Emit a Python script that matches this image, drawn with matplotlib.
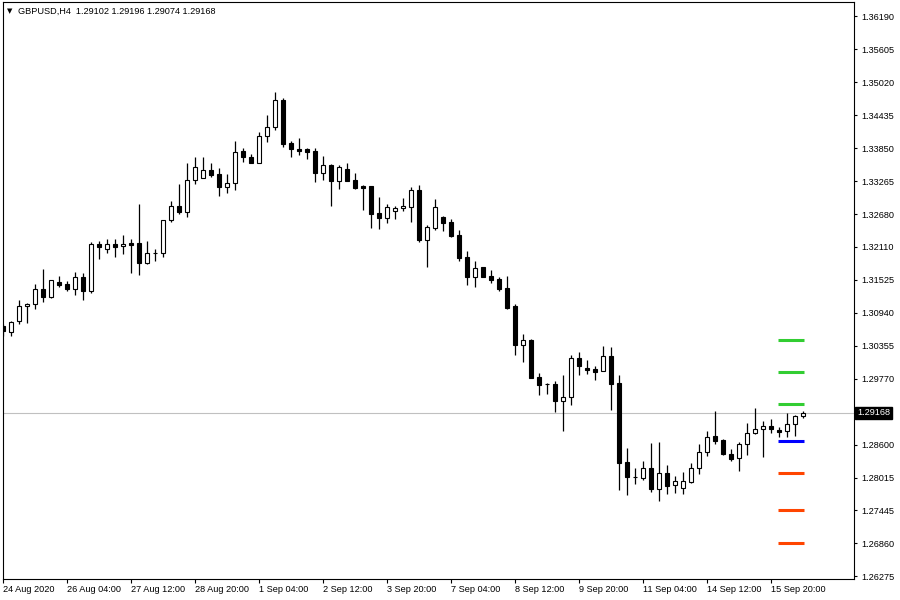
import matplotlib.pyplot as plt

# GBPUSD H4 candles, 24 Aug 20:00 .. 16 Sep 12:00 (2020)
opens = [1.30703, 1.30591, 1.30786, 1.31052, 1.31087, 1.31352, 1.31221, 1.31482, 1.31441, 1.31363,
         1.31565, 1.31328, 1.32149, 1.32060, 1.32149, 1.32114, 1.32172, 1.32167, 1.31823, 1.31990,
         1.31990, 1.32574, 1.32822, 1.32726, 1.33282, 1.33328, 1.33464, 1.33393, 1.33158, 1.33234,
         1.33795, 1.33694, 1.33593, 1.34061, 1.34220, 1.34703, 1.33937, 1.33836, 1.33836, 1.33800,
         1.33416, 1.33553, 1.33275, 1.33476, 1.33287, 1.33181, 1.33176, 1.32698, 1.32620, 1.32744,
         1.32783, 1.32818, 1.33107, 1.32230, 1.32446, 1.32629, 1.32540, 1.32310, 1.31921, 1.31575,
         1.31742, 1.31582, 1.31535, 1.31370, 1.31057, 1.30372, 1.30450, 1.29795, 1.29682, 1.29673,
         1.29381, 1.29441, 1.30133, 1.29956, 1.29938, 1.29915, 1.30167, 1.29694, 1.28290, 1.28030,
         1.28018, 1.28189, 1.27823, 1.28096, 1.27883, 1.27841, 1.27947, 1.28184, 1.28467, 1.28751,
         1.28680, 1.28432, 1.28361, 1.28609, 1.28804, 1.28874, 1.28928, 1.28862, 1.28839, 1.28963,
         1.29102]
highs = [1.30738, 1.30797, 1.31163, 1.31105, 1.31446, 1.31712, 1.31517, 1.31582, 1.31499, 1.31659,
         1.31641, 1.32184, 1.32202, 1.32237, 1.32237, 1.32308, 1.32248, 1.32857, 1.32202, 1.32060,
         1.32579, 1.32910, 1.33222, 1.33583, 1.33694, 1.33694, 1.33583, 1.33494, 1.33393, 1.33977,
         1.33859, 1.33747, 1.34137, 1.34438, 1.34845, 1.34733, 1.33977, 1.34030, 1.33853, 1.33848,
         1.33707, 1.33570, 1.33547, 1.33588, 1.33411, 1.33193, 1.33181, 1.32986, 1.32862, 1.32827,
         1.32968, 1.33158, 1.33195, 1.32485, 1.32947, 1.32646, 1.32591, 1.32398, 1.32027, 1.31853,
         1.31747, 1.31689, 1.31565, 1.31582, 1.31087, 1.30561, 1.30473, 1.29866, 1.29694, 1.29726,
         1.29832, 1.30186, 1.30239, 1.30098, 1.29991, 1.30345, 1.30328, 1.29832, 1.28543, 1.28189,
         1.28313, 1.28632, 1.28650, 1.28243, 1.28048, 1.28119, 1.28278, 1.28609, 1.28844, 1.29198,
         1.28703, 1.28526, 1.28650, 1.28986, 1.29251, 1.29027, 1.29057, 1.28910, 1.29163, 1.29122,
         1.29196]
lows = [1.30531, 1.30531, 1.30744, 1.30761, 1.31009, 1.31133, 1.31204, 1.31388, 1.31328, 1.31257,
        1.31168, 1.31292, 1.31894, 1.32000, 1.31929, 1.31983, 1.31646, 1.31611, 1.31806, 1.31859,
        1.31929, 1.32538, 1.32685, 1.32637, 1.33222, 1.33322, 1.33335, 1.33004, 1.33052, 1.33110,
        1.33611, 1.33583, 1.33588, 1.33954, 1.34172, 1.33876, 1.33699, 1.33735, 1.33664, 1.33257,
        1.33287, 1.32827, 1.33133, 1.33269, 1.33133, 1.32756, 1.32443, 1.32425, 1.32531, 1.32602,
        1.32744, 1.32544, 1.32195, 1.31752, 1.32407, 1.32384, 1.32283, 1.31862, 1.31434, 1.31398,
        1.31570, 1.31469, 1.31328, 1.31009, 1.30195, 1.30071, 1.29782, 1.29487, 1.29505, 1.29186,
        1.28844, 1.29310, 1.29841, 1.29862, 1.29752, 1.29901, 1.29221, 1.27805, 1.27717, 1.27912,
        1.27982, 1.27770, 1.27611, 1.27735, 1.27752, 1.27735, 1.27929, 1.28089, 1.28407, 1.28620,
        1.28425, 1.28319, 1.28142, 1.28425, 1.28800, 1.28389, 1.28814, 1.28743, 1.28743, 1.28761,
        1.29074]
closes = [1.30620, 1.30779, 1.31052, 1.31087, 1.31352, 1.31221, 1.31512, 1.31434, 1.31363, 1.31565,
          1.31328, 1.32149, 1.32096, 1.32149, 1.32106, 1.32149, 1.32142, 1.31823, 1.31990, 1.31995,
          1.32574, 1.32822, 1.32721, 1.33282, 1.33517, 1.33464, 1.33381, 1.33158, 1.33234, 1.33777,
          1.33699, 1.33593, 1.34061, 1.34225, 1.34703, 1.33933, 1.33841, 1.33806, 1.33788, 1.33416,
          1.33547, 1.33275, 1.33512, 1.33275, 1.33151, 1.33151, 1.32691, 1.32620, 1.32804, 1.32786,
          1.32823, 1.33107, 1.32229, 1.32452, 1.32806, 1.32535, 1.32299, 1.31912, 1.31575, 1.31738,
          1.31575, 1.31522, 1.31363, 1.31027, 1.30372, 1.30450, 1.29788, 1.29664, 1.29685, 1.29381,
          1.29441, 1.30131, 1.30000, 1.29933, 1.29894, 1.30167, 1.29682, 1.28283, 1.28035, 1.28027,
          1.28184, 1.27823, 1.28096, 1.27876, 1.27954, 1.27954, 1.28184, 1.28467, 1.28733, 1.28673,
          1.28443, 1.28354, 1.28609, 1.28804, 1.28874, 1.28928, 1.28885, 1.28832, 1.28963, 1.29105,
          1.29168]

# time axis labels, one every 8 bars
time_labels = ['24 Aug 2020', '26 Aug 04:00', '27 Aug 12:00', '28 Aug 20:00', '1 Sep 04:00',
               '2 Sep 12:00', '3 Sep 20:00', '7 Sep 04:00', '8 Sep 12:00', '9 Sep 20:00',
               '11 Sep 04:00', '14 Sep 12:00', '15 Sep 20:00']
label_step = 8

price_ticks = [1.36190, 1.35605, 1.35020, 1.34435, 1.33850, 1.33265, 1.32680, 1.32110, 1.31525,
               1.30940, 1.30355, 1.29770, 1.28600, 1.28015, 1.27445, 1.26860, 1.26275]

# pivot style levels drawn at the right
levels_up = [1.30448, 1.29882, 1.29320]
level_mid = 1.28660
levels_down = [1.28093, 1.27443, 1.26859]

symbol = 'GBPUSD,H4'

FONT = 'Liberation Sans'
FS = 6.6

fig = plt.figure(figsize=(9, 6), dpi=100, facecolor='white')
ax = fig.add_axes([2.5 / 900, 21 / 600, 851.5 / 900, 577 / 600])
ax.set_facecolor('white')

n = len(opens)
x = list(range(n))

# current price line
ax.axhline(closes[-1], color='#c0c0c0', lw=0.8, zorder=1)

# wicks + bodies
ax.vlines(x, lows, highs, color='black', lw=0.9, zorder=2)
bottoms = [min(o, c) for o, c in zip(opens, closes)]
heights = [abs(c - o) for o, c in zip(opens, closes)]
faces = ['white' if c > o else 'black' for o, c in zip(opens, closes)]
ax.bar(x, heights, bottom=bottoms, width=0.55, color=faces, edgecolor='black',
       linewidth=0.8, zorder=3)

# levels
x0, x1 = n - 4.1, n - 0.9
ax.hlines(levels_up, x0, x1, color='#32cd32', lw=2.2, zorder=4)
ax.hlines(level_mid, x0, x1, color='#0000ff', lw=2.2, zorder=4)
ax.hlines(levels_down, x0, x1, color='#ff4500', lw=2.2, zorder=4)

ax.set_xlim(-0.1, 106.34)
ax.set_ylim(1.26225, 1.36438)

# axes look
for sp in ax.spines.values():
    sp.set_color('black')
    sp.set_linewidth(0.8)

ax.yaxis.tick_right()
ax.set_yticks(price_ticks)
ax.set_yticklabels([f'{v:.5f}' for v in price_ticks], fontfamily=FONT, fontsize=FS)
ax.tick_params(axis='y', length=2.5, width=0.8, pad=3, colors='black')

ax.set_xticks(list(range(0, n, label_step)))
ax.set_xticklabels(time_labels, fontfamily=FONT, fontsize=FS)
for t in ax.get_xticklabels():
    t.set_horizontalalignment('left')
ax.tick_params(axis='x', length=3, width=0.8, pad=1.5, colors='black')

# last price box on the scale
ax.text(1.0035, closes[-1], f'{closes[-1]:.5f}', transform=ax.get_yaxis_transform(),
        ha='left', va='center', color='white', fontsize=FS, fontfamily=FONT,
        bbox=dict(boxstyle='square,pad=0.18', fc='black', ec='black'), clip_on=False, zorder=6)

# header
fig.text(10 / 900, 1 - 11 / 600, '\u25bc', ha='center', va='center', fontsize=5,
         fontfamily='DejaVu Sans', color='black')
header = f'{symbol}  {opens[-1]:.5f} {highs[-1]:.5f} {lows[-1]:.5f} {closes[-1]:.5f}'
fig.text(18 / 900, 1 - 11 / 600, header, ha='left', va='center', fontsize=FS,
         fontfamily=FONT, color='black')

fig.savefig('out.png', dpi=100, facecolor='white')
